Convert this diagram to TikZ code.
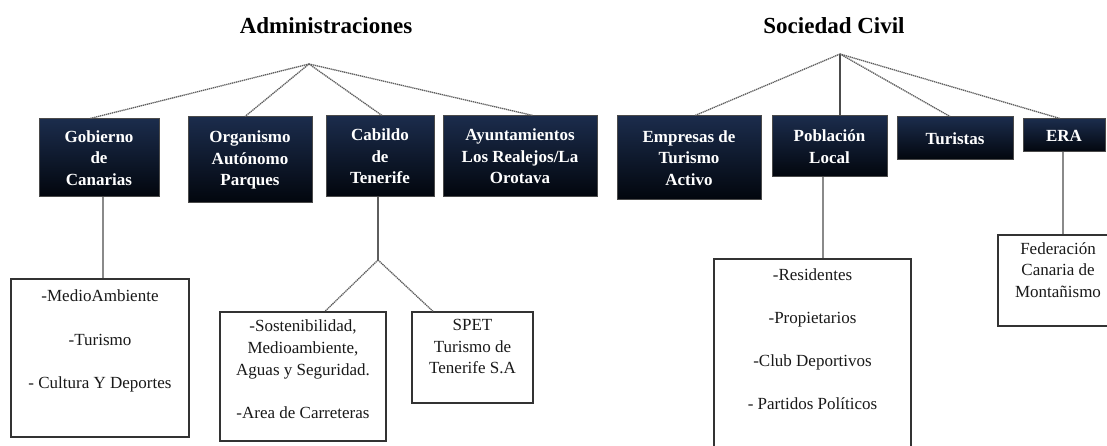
\documentclass[tikz,border=0pt]{standalone}
\usepackage{fontspec}
\setmainfont{Liberation Serif}
\definecolor{boxtop}{HTML}{1B2C4C}
\definecolor{boxbot}{HTML}{02060D}
\definecolor{linegray}{HTML}{8A8A8A}
\definecolor{dotgray}{HTML}{5E5E5E}
\definecolor{edgegray}{HTML}{4A4A4A}
\tikzset{
  title/.style={font=\bfseries\fontsize{23}{27}\selectfont, anchor=base, inner sep=0},
  dbox/.style={draw=edgegray, line width=1pt, top color=boxtop, bottom color=boxbot,
    text=white, font=\bfseries\fontsize{17}{21.5}\selectfont, align=center, inner sep=0},
  lbox/.style={draw=black!80, line width=1.3pt, fill=white, inner sep=0},
  ltext/.style={font=\fontsize{17}{21.7}\selectfont, align=center, anchor=north, inner sep=0, text=black!90},
  dotline/.style={draw=dotgray, line width=1.3pt, dash pattern=on 1.3pt off 0.7pt},
  solidline/.style={draw=linegray, line width=1.3pt}
}
\begin{document}
\begin{tikzpicture}[x=1pt,y=-1pt]
\useasboundingbox (0,0) rectangle (1107,446);
\clip (0,0) rectangle (1107,446);
\fill[white] (0,0) rectangle (1107,446);

% titles
\node[title] (tadm) at (326,34) {Administraciones};
\node[title] (tsoc) at (834,34) {Sociedad Civil};
\coordinate (a1) at (309,64);
\coordinate (a2) at (840,54);

% top level boxes
\node[dbox, minimum width=120pt, minimum height=78pt] (gob) at (99,158) {Gobierno\\de\\Canarias};
\node[dbox, minimum width=124pt, minimum height=86pt] (org) at (250,160) {Organismo\\Autónomo\\Parques};
\node[dbox, minimum width=108pt, minimum height=81pt] (cab) at (380,156.5) {Cabildo\\de\\Tenerife};
\node[dbox, minimum width=154pt, minimum height=81pt] (ayu) at (520,156.5) {Ayuntamientos\\Los Realejos/La\\Orotava};
\node[dbox, minimum width=144pt, minimum height=84pt] (emp) at (689,158) {Empresas de\\Turismo\\Activo};
\node[dbox, minimum width=115pt, minimum height=61pt] (pob) at (829.5,146.5) {Población\\Local};
\node[dbox, minimum width=116pt, minimum height=43pt] (tur) at (955,138.5) {Turistas};
\node[dbox, minimum width=82pt, minimum height=33pt] (era) at (1064,135.5) {ERA};

% connectors from apexes
\draw[dotline] (a1) -- ([xshift=-9pt]gob.north);
\draw[dotline] (a1) -- ([xshift=-5pt]org.north);
\draw[dotline] (a1) -- ([xshift=2pt]cab.north);
\draw[dotline] (a1) -- ([xshift=13pt]ayu.north);
\draw[dotline] (a2) -- ([xshift=6pt]emp.north);
\draw[draw=black!70, line width=1.2pt] (a2) -- (a2 |- pob.north);
\draw[dotline] (a2) -- ([xshift=-5pt]tur.north);
\draw[dotline] (a2) -- ([xshift=-4pt]era.north);

% lower boxes
\node[lbox, minimum width=178pt, minimum height=158pt] (gobsub) at (100,358) {};
\node[ltext] (gobtxt) at (100,290) {-MedioAmbiente\\[21.7pt]-Turismo\\[21.7pt]- Cultura Y Deportes};

\node[lbox, minimum width=166pt, minimum height=129pt] (cabsub1) at (303,376.5) {};
\node[ltext] (cab1txt) at (303,320) {-Sostenibilidad,\\Medioambiente,\\Aguas y Seguridad.\\[21.7pt]-Area de Carreteras};

\node[lbox, minimum width=121pt, minimum height=91pt] (cabsub2) at (472.5,357.5) {};
\node[ltext] (cab2txt) at (472.5,319) {SPET\\Turismo de\\Tenerife S.A};

\node[lbox, minimum width=197pt, minimum height=211pt] (pobsub) at (812.5,364.5) {};
\node[ltext] (pobtxt) at (812.5,269) {-Residentes\\[21pt]-Propietarios\\[21pt]-Club Deportivos\\[21pt]- Partidos Políticos};

\node[lbox, minimum width=120pt, minimum height=91pt] (erasub) at (1058,280.5) {};
\node[ltext] (eratxt) at (1058,242) {Federación\\Canaria de\\Montañismo};

% lower connectors
\draw[solidline] ([xshift=4pt]gob.south) -- ([xshift=4pt]gob.south |- gobsub.north);
\coordinate (j) at (378,260);
\draw[dotline] ([xshift=-2pt]cab.south) -- (j);
\draw[dotline] (j) -- ([xshift=22pt]cabsub1.north);
\draw[dotline] (j) -- ([xshift=-39.5pt]cabsub2.north);
\draw[solidline] ([xshift=-6.5pt]pob.south) -- ([xshift=-6.5pt]pob.south |- pobsub.north);
\draw[solidline] ([xshift=-1pt]era.south) -- ([xshift=-1pt]era.south |- erasub.north);
\end{tikzpicture}
\end{document}
